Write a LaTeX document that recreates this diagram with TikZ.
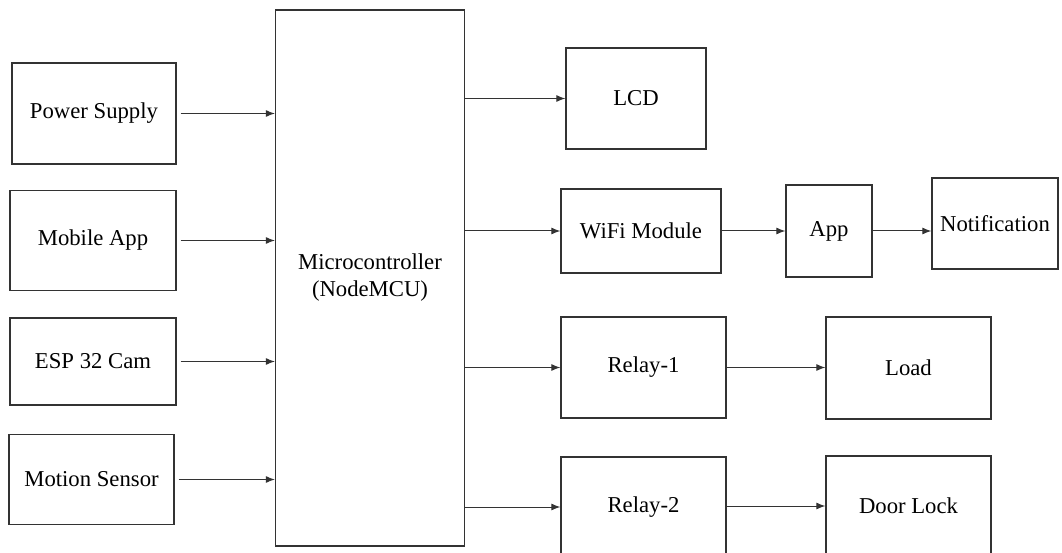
\documentclass[tikz,border=0pt]{standalone}
\usepackage{fontspec}
\setmainfont{Liberation Serif}
\usetikzlibrary{arrows.meta}

\begin{document}
\begin{tikzpicture}[x=1pt, y=-1pt,
  blk/.style={draw=black!80, line width=1.3pt, font=\fontsize{22.7}{27}\selectfont, inner sep=2pt, align=center},
  arr/.style={draw=black!80, line width=1pt, -{Latex[length=9pt, width=7pt]}}]
  \useasboundingbox (0,0) rectangle (1062,553);
  % inputs on the left
  \node[blk, minimum width=164pt, minimum height=101pt] (ps) at (94,113.5) {Power Supply};
  \node[blk, minimum width=166pt, minimum height=100pt] (mob) at (93,240.5) {Mobile App};
  \node[blk, minimum width=166pt, minimum height=87pt] (esp) at (93,361.5) {ESP 32 Cam};
  \node[blk, minimum width=165pt, minimum height=90pt] (mot) at (91.5,479.5) {Motion Sensor};
  % controller
  \node[blk, minimum width=189pt, minimum height=536pt] (mcu) at (370,278) {Microcontroller\\(NodeMCU)};
  % outputs on the right
  \node[blk, minimum width=140pt, minimum height=101pt] (lcd) at (636,98.5) {LCD};
  \node[blk, minimum width=160pt, minimum height=84pt] (wifi) at (641,231) {WiFi Module};
  \node[blk, minimum width=86pt, minimum height=92pt] (app) at (829,231) {App};
  \node[blk, minimum width=126pt, minimum height=91pt] (notif) at (995,223.5) {Notification};
  \node[blk, minimum width=165pt, minimum height=101pt] (rly1) at (643.5,367.5) {Relay-1};
  \node[blk, minimum width=165pt, minimum height=102pt] (load) at (908.5,368) {Load};
  \node[blk, minimum width=165pt, minimum height=100pt] (rly2) at (643.5,507) {Relay-2};
  \node[blk, minimum width=165pt, minimum height=100pt] (lock) at (908.5,506) {Door Lock};
  % connectors into the controller
  \foreach \src in {ps,mob,esp,mot}{
    \draw[arr] ([xshift=4pt]\src.east) -- (\src.east -| mcu.west);
  }
  % connectors out of the controller
  \foreach \dst in {lcd,wifi,rly1,rly2}{
    \draw[arr] (mcu.east |- \dst.west) -- (\dst.west);
  }
  \draw[arr] (wifi.east) -- (app.west);
  \draw[arr] (app.east) -- (app.east -| notif.west);
  \draw[arr] (rly1.east) -- (rly1.east -| load.west);
  \draw[arr] (rly2.east |- lock.west) -- (lock.west);
\end{tikzpicture}
\end{document}
